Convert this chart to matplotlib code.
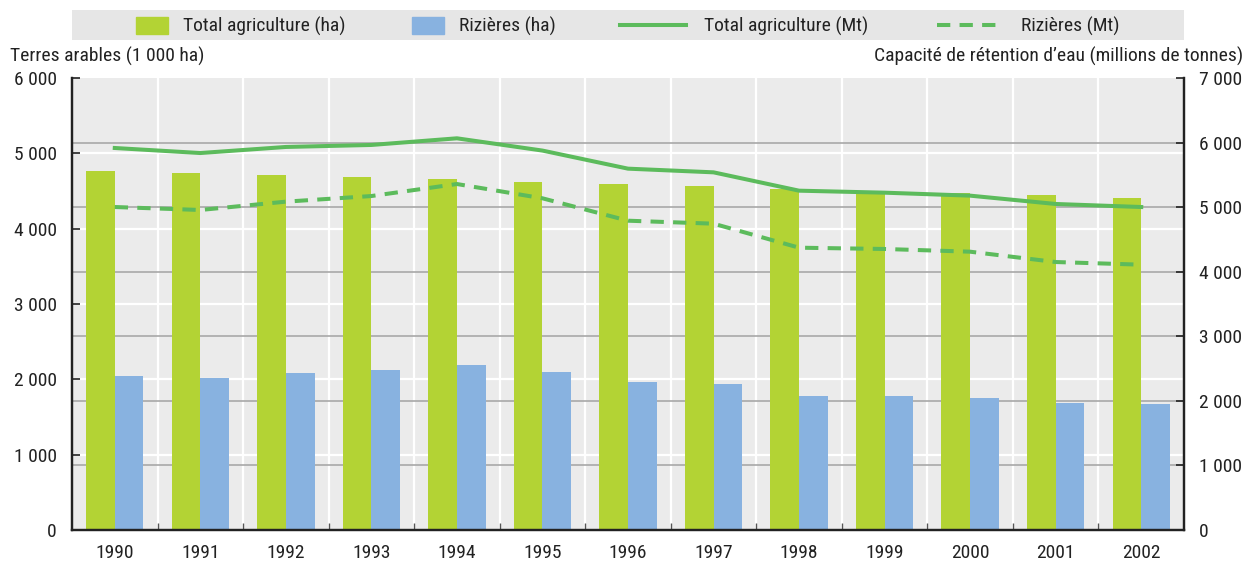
import matplotlib
matplotlib.use("Agg")
import matplotlib.pyplot as plt
from matplotlib.patches import Patch, Rectangle
from matplotlib.lines import Line2D
from matplotlib.transforms import blended_transform_factory

plt.rcParams["font.family"] = ["Roboto Condensed", "Archivo Narrow", "DejaVu Sans"]

# data
years = ["1990", "1991", "1992", "1993", "1994", "1995", "1996",
         "1997", "1998", "1999", "2000", "2001", "2002"]
total_ha = [4765, 4740, 4713, 4686, 4660, 4620, 4593, 4567, 4527, 4500, 4474, 4447, 4407]
riz_ha = [2044, 2018, 2084, 2124, 2190, 2097, 1965, 1938, 1779, 1779, 1752, 1686, 1673]
total_mt = [5916, 5838, 5932, 5963, 6066, 5876, 5596, 5539, 5255, 5224, 5178, 5049, 5002]
riz_mt = [5002, 4956, 5085, 5172, 5358, 5137, 4790, 4744, 4372, 4352, 4310, 4150, 4109]

left_ticks = [0, 1000, 2000, 3000, 4000, 5000, 6000]
right_ticks = [0, 1000, 2000, 3000, 4000, 5000, 6000, 7000]

GREEN = "#b3d334"
BLUE = "#88b2e0"
LINE = "#5cbb5c"
BG = "#ebebeb"
TXT = "#222222"
FS = 14

def fmt(v):
    return f"{v:,}".replace(",", " ")

W, H = 1246, 564
fig = plt.figure(figsize=(W / 100, H / 100), dpi=100)
ax = fig.add_axes([72 / W, 34 / H, 1112 / W, 452 / H])
ax.set_facecolor(BG)
ax2 = ax.twinx()

x = list(range(len(years)))
bw = 0.335

ax.set_xlim(-0.5, len(years) - 0.5)
ax.set_ylim(0, 6000)
ax2.set_ylim(0, 7000)

# white grid (left scale) and grey grid (right scale), behind the bars
for v in left_ticks[1:-1]:
    ax.axhline(v, color="white", lw=1.6, zorder=0.6)
for i in range(len(years) - 1):
    ax.axvline(i + 0.5, color="white", lw=1.6, zorder=0.6)
tr = blended_transform_factory(ax.transAxes, ax2.transData)
for v in right_ticks[1:-1]:
    ax.plot([0, 1], [v, v], transform=tr, color="#a8a8a8", lw=1.2, zorder=0.7)

ax.bar([i - bw / 2 for i in x], total_ha, width=bw, color=GREEN, zorder=2)
ax.bar([i + bw / 2 for i in x], riz_ha, width=bw, color=BLUE, zorder=2)

ax2.plot(x, total_mt, color=LINE, lw=2.9, solid_joinstyle="round")
ax2.plot(x, riz_mt, color=LINE, lw=2.9, dashes=(3.3, 2.3))

# axes styling
for a in (ax, ax2):
    a.spines["top"].set_visible(False)
    for s in ("left", "right", "bottom"):
        a.spines[s].set_color(TXT)
        a.spines[s].set_linewidth(1.6)

ax.set_yticks(left_ticks)
ax.set_yticklabels([fmt(v) for v in left_ticks])
ax2.set_yticks(right_ticks)
ax2.set_yticklabels([fmt(v) for v in right_ticks])
ax.tick_params(axis="y", direction="in", length=6, width=1.2, colors=TXT,
               labelsize=FS, pad=11)
ax2.tick_params(axis="y", direction="in", length=6, width=1.2, colors=TXT,
                labelsize=FS, pad=11)

ax.set_xticks(x)
ax.set_xticklabels(years)
ax.set_xticks([i + 0.5 for i in x[:-1]], minor=True)
ax.tick_params(axis="x", which="major", length=0, labelsize=FS, colors=TXT, pad=10)
ax.tick_params(axis="x", which="minor", direction="in", length=5, width=1, color="#555555")

fig.text(10 / W, 1 - 56 / H, "Terres arables (1 000 ha)", fontsize=FS,
         color=TXT, ha="left", va="center")
fig.text(1243 / W, 1 - 56 / H, "Capacité de rétention d\u2019eau (millions de tonnes)",
         fontsize=FS, color=TXT, ha="right", va="center")

# legend: grey band with two groups (bars, lines)
fig.add_artist(Rectangle((72 / W, 1 - 40 / H), 1112 / W, 30 / H,
                         transform=fig.transFigure, facecolor="#e6e6e6",
                         edgecolor="none", zorder=0))
bar_handles = [Patch(color=GREEN, label="Total agriculture (ha)"),
               Patch(color=BLUE, label="Rizières (ha)")]
line_handles = [Line2D([], [], color=LINE, lw=2.9, label="Total agriculture (Mt)"),
                Line2D([], [], color=LINE, lw=2.9, dashes=(3.3, 2.3), label="Rizières (Mt)")]
legA = fig.legend(handles=bar_handles, loc="center left", ncol=2,
                  bbox_to_anchor=(136 / W, 1 - 26.5 / H), frameon=False,
                  fontsize=FS, handlelength=1.65, handleheight=0.96,
                  borderpad=0, borderaxespad=0, handletextpad=0.77,
                  columnspacing=3.4, labelcolor=TXT)
legB = fig.legend(handles=line_handles, loc="center left", ncol=2,
                  bbox_to_anchor=(620 / W, 1 - 26.5 / H), frameon=False,
                  fontsize=FS, handlelength=3.4, borderpad=0,
                  borderaxespad=0, handletextpad=0.93, columnspacing=3.5,
                  labelcolor=TXT)

fig.savefig("out.png", dpi=100)
